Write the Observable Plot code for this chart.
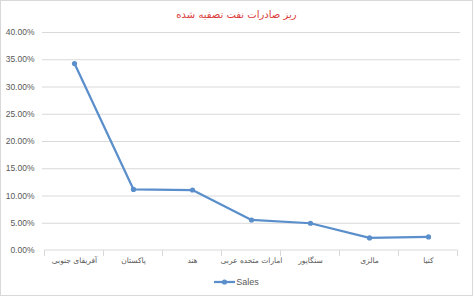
<!DOCTYPE html>
<html>
<head>
<meta charset="utf-8">
<script src="https://cdn.jsdelivr.net/npm/d3@7"></script>
<script src="https://cdn.jsdelivr.net/npm/@observablehq/plot@0.6"></script>
<style>
  html, body { margin: 0; padding: 0; background: #fff; }
  #wrap { position: relative; width: 473px; height: 296px; overflow: hidden; background: #fff; }
  #frame { position: absolute; left: 0; top: 0; width: 471px; height: 294px; border: 1px solid #d9d9d9; pointer-events: none; }
  #title { height: 25px; box-sizing: border-box; padding-top: 8px; text-align: center; font: 10px/14px "DejaVu Sans", sans-serif; color: #dc3b3b; direction: rtl; }
  #legend { height: 26px; display: flex; justify-content: center; align-items: center; padding-bottom: 2px; box-sizing: border-box; font: 9px "Liberation Sans", sans-serif; color: #595959; }
  #legend svg { display: block; }
  #chart svg { display: block; }
</style>
</head>
<body>
<div id="wrap">
  <div id="title">ریز صادرات نفت تصفیه شده</div>
  <div id="chart"></div>
  <div id="legend"></div>
  <div id="frame"></div>
</div>
<script>
const categories = ["آفریقای جنوبی", "پاکستان", "هند", "امارات متحده عربی", "سنگاپور", "مالزی", "کنیا"];
const sales = [0.343, 0.112, 0.111, 0.056, 0.050, 0.023, 0.025];
const yTicks = [0, 0.05, 0.10, 0.15, 0.20, 0.25, 0.30, 0.35, 0.40];
const seriesName = "Sales";
const lineColor = "#5b8fcb";
const gridColor = "#d9d9d9";

const data = categories.map((c, i) => ({category: c, value: sales[i]}));

// boundary ticks between category slots, positioned via the x scale
function separators(index, scales, values, dimensions) {
  const x = scales.x, y = scales.y;
  const pos = categories.map(c => x(c));
  const half = (pos[1] - pos[0]) / 2;
  const edges = pos.map(p => p - half).concat([pos[pos.length - 1] + half]);
  const y0 = y(0);
  const g = d3.create("svg:g");
  g.selectAll("line").data(edges).join("line")
    .attr("x1", d => d).attr("x2", d => d)
    .attr("y1", y0).attr("y2", y0 + 6)
    .attr("stroke", gridColor).attr("stroke-width", 1);
  g.append("line")
    .attr("x1", edges[0]).attr("x2", edges[edges.length - 1])
    .attr("y1", y0).attr("y2", y0)
    .attr("stroke", gridColor).attr("stroke-width", 1);
  return g.node();
}

const plot = Plot.plot({
  width: 473,
  height: 245,
  marginTop: 7,
  marginBottom: 20,
  marginLeft: 42,
  marginRight: 13,
  style: {background: "#fff", color: "#595959", overflow: "visible"},
  x: {type: "point", domain: categories, padding: 0.5, label: null},
  y: {domain: [0, 0.4], label: null},
  marks: [
    Plot.ruleY(yTicks.filter(d => d > 0), {stroke: gridColor, strokeWidth: 1}),
    separators,
    Plot.axisY({ticks: yTicks, tickSize: 0, tickPadding: 8, tickFormat: d => (d * 100).toFixed(2) + "%", fontSize: 8.5, fontFamily: "Liberation Sans, sans-serif", fill: "#595959", label: null}),
    Plot.axisX({tickSize: 0, tickPadding: 7, fontSize: 7.5, fontFamily: "DejaVu Sans, sans-serif", fill: "#595959", label: null}),
    Plot.line(data, {x: "category", y: "value", stroke: lineColor, strokeWidth: 2.25}),
    Plot.dot(data, {x: "category", y: "value", fill: lineColor, r: 2.6})
  ]
});
document.getElementById("chart").appendChild(plot);

// legend
const leg = d3.select("#legend");
const ls = leg.append("svg").attr("width", 21).attr("height", 10);
ls.append("line").attr("x1", 0).attr("x2", 21).attr("y1", 5).attr("y2", 5).attr("stroke", lineColor).attr("stroke-width", 2.25);
ls.append("circle").attr("cx", 10.5).attr("cy", 5).attr("r", 2.6).attr("fill", lineColor);
leg.append("span").text(seriesName).style("margin-left", "1px");
</script>
</body>
</html>
